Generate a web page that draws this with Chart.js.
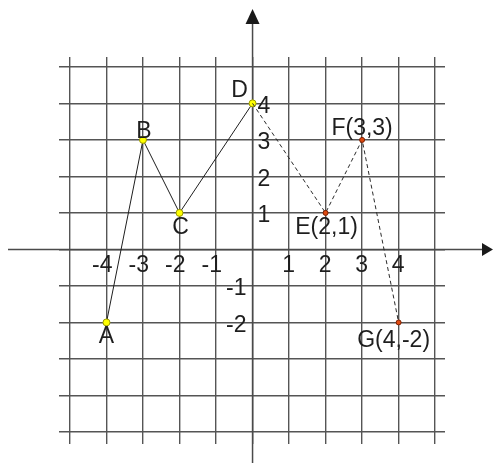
<!DOCTYPE html>
<html lang="en">

<head>
    <meta charset="UTF-8">
    <title>Points A-G</title>
    <script src="https://cdn.jsdelivr.net/npm/chart.js@4.4.1/dist/chart.umd.min.js"></script>
</head>

<body>
    <div id="box">
        <canvas id="plotCanvas"></canvas>
    </div>
</body>
<style>
    * {
        margin: 0;
        padding: 0;
    }

    body {
        background: #ffffff;
    }

    #box {
        position: relative;
        width: 493px;
        height: 464px;
    }
</style>

<script>
    // grid lines at every whole unit
    const gridValues = [-5, -4, -3, -2, -1, 0, 1, 2, 3, 4, 5]
    const xTickLabels = [-4, -3, -2, -1, 1, 2, 3, 4]
    const yTickLabels = [4, 3, 2, 1, -1, -2]

    // A B C D, joined by a solid line
    const solidX = [-4, -3, -2, 0]
    const solidY = [-2, 3, 1, 4]
    const solidNames = ["A", "B", "C", "D"]

    // D E F G, joined by a dashed line
    const dashedX = [0, 2, 3, 4]
    const dashedY = [4, 1, 3, -2]
    const dashedNames = ["", "E(2,1)", "F(3,3)", "G(4,-2)"]

    const FONT = '23px "Liberation Sans", Arial, sans-serif'
    const TEXT = "#1e1e1e"

    // where each name sits compared to its point
    const nameShift = {
        "A": [0, 12],
        "B": [1, -10],
        "C": [1, 13],
        "D": [-13, -15],
        "E(2,1)": [1, 13],
        "F(3,3)": [0, -13],
        "G(4,-2)": [-5, 16],
    }

    function toPoints(xs, ys) {
        return xs.map((x, i) => ({ x: x, y: ys[i] }))
    }

    function setGridTicks(scale) {
        scale.ticks = gridValues.map(v => ({ value: v }))
    }

    function writeText(ctx, str, x, y, align) {
        ctx.textAlign = align
        ctx.fillText(str, x, y)
    }

    const axesPlugin = {
        id: "axesPlugin",
        beforeDatasetsDraw(chart) {
            const ctx = chart.ctx
            const xs = chart.scales.x
            const ys = chart.scales.y
            const x0 = xs.getPixelForValue(0)
            const y0 = ys.getPixelForValue(0)
            ctx.save()
            ctx.strokeStyle = "#4a4a4a"
            ctx.lineWidth = 1.5
            ctx.beginPath()
            ctx.moveTo(8, y0)
            ctx.lineTo(484, y0)
            ctx.moveTo(x0, 463)
            ctx.lineTo(x0, 22)
            ctx.stroke()

            ctx.fillStyle = "#1a1a1a"
            ctx.beginPath()
            ctx.moveTo(493, y0)
            ctx.lineTo(482, y0 - 6.5)
            ctx.lineTo(482, y0 + 6.5)
            ctx.closePath()
            ctx.fill()
            ctx.beginPath()
            ctx.moveTo(x0, 9)
            ctx.lineTo(x0 - 7, 24)
            ctx.lineTo(x0 + 7, 24)
            ctx.closePath()
            ctx.fill()

            ctx.font = FONT
            ctx.fillStyle = TEXT
            ctx.textBaseline = "alphabetic"
            xTickLabels.forEach(v => {
                writeText(ctx, String(v), xs.getPixelForValue(v) + 6, y0 + 22.5, "right")
            })
            yTickLabels.forEach(v => {
                const py = ys.getPixelForValue(v) + 9.5
                if (v > 0) {
                    writeText(ctx, String(v), x0 + 5, py, "left")
                } else {
                    writeText(ctx, String(v), x0 - 6, py, "right")
                }
            })
            ctx.restore()
        },
        afterDatasetsDraw(chart) {
            const ctx = chart.ctx
            ctx.save()
            ctx.font = FONT
            ctx.fillStyle = TEXT
            ctx.textBaseline = "alphabetic"
            chart.data.datasets.forEach((ds, di) => {
                const meta = chart.getDatasetMeta(di)
                ds.names.forEach((name, i) => {
                    if (!name) return
                    const el = meta.data[i]
                    const s = nameShift[name]
                    writeText(ctx, name, el.x + s[0], el.y + s[1] + 8.3, "center")
                })
            })
            ctx.restore()
        }
    }

    const gridOpts = {
        color: "#555555",
        lineWidth: 1.4,
        drawTicks: false,
    }

    new Chart(document.getElementById("plotCanvas"), {
        type: "scatter",
        data: {
            datasets: [
                {
                    data: toPoints(dashedX, dashedY),
                    names: dashedNames,
                    showLine: true,
                    borderColor: "#2a2a2a",
                    borderWidth: 1,
                    borderDash: [4, 3],
                    pointRadius: c => (c.dataIndex === 0 ? 0 : 2.5),
                    pointBackgroundColor: "#e04a10",
                    pointBorderColor: "#7a1e00",
                    pointBorderWidth: 1,
                },
                {
                    data: toPoints(solidX, solidY),
                    names: solidNames,
                    showLine: true,
                    borderColor: "#1e1e1e",
                    borderWidth: 1,
                    pointRadius: 3.5,
                    pointBackgroundColor: "#ffff00",
                    pointBorderColor: "#9a9a00",
                    pointBorderWidth: 1,
                },
            ]
        },
        options: {
            responsive: true,
            maintainAspectRatio: false,
            animation: false,
            layout: {
                padding: { left: 59, right: 48, top: 57, bottom: 20 }
            },
            plugins: {
                legend: { display: false },
                tooltip: { enabled: false },
            },
            scales: {
                x: {
                    type: "linear",
                    min: -5.3,
                    max: 5.27,
                    afterBuildTicks: setGridTicks,
                    ticks: { display: false },
                    grid: gridOpts,
                    border: { display: false },
                },
                y: {
                    type: "linear",
                    min: -5.33,
                    max: 5.27,
                    afterBuildTicks: setGridTicks,
                    ticks: { display: false },
                    grid: gridOpts,
                    border: { display: false },
                },
            },
        },
        plugins: [axesPlugin],
    })
</script>

</html>
